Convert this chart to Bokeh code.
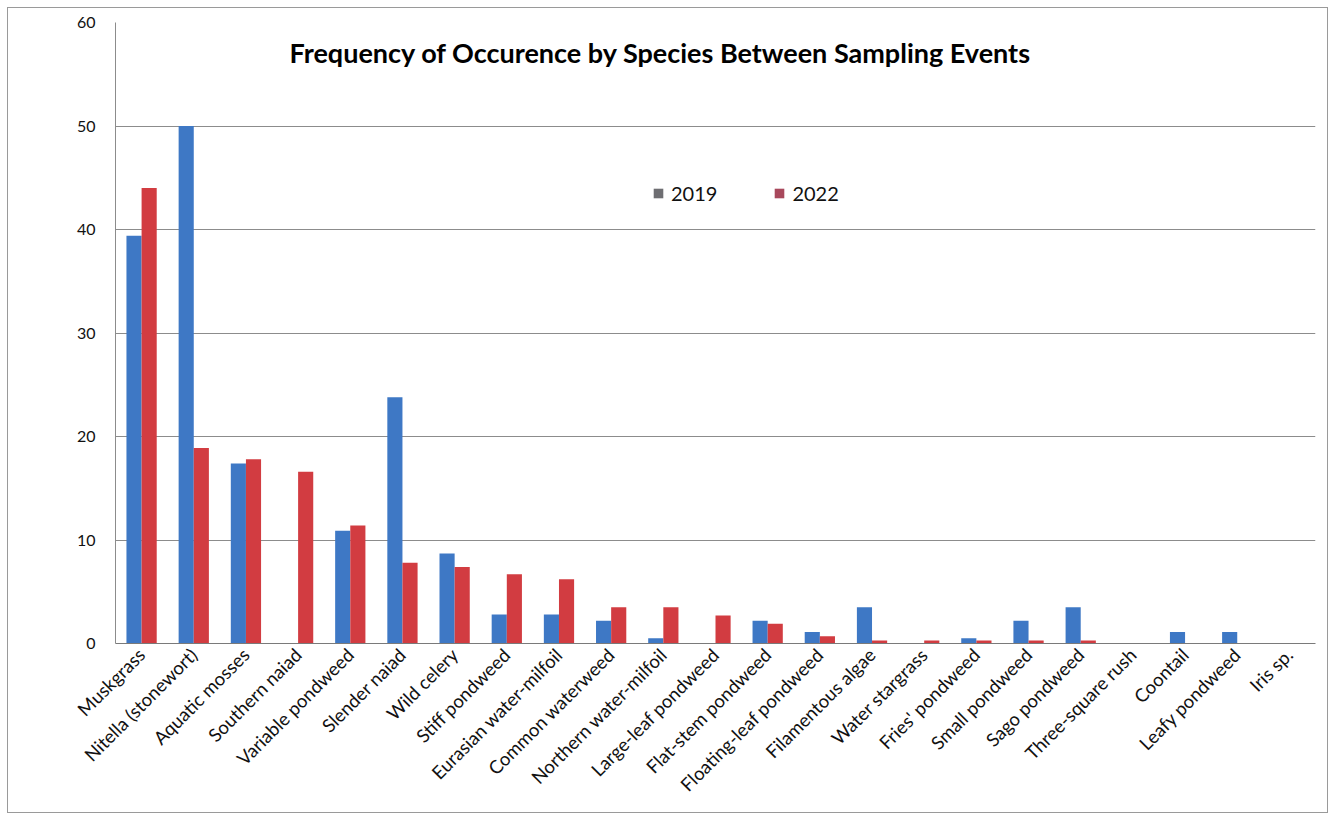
import math
from bokeh.plotting import figure
from bokeh.models import FactorRange, Range1d, Label, Legend, LegendItem, SingleIntervalTicker
from bokeh.transform import dodge
from bokeh.embed import file_html
from bokeh.resources import INLINE

species = [
    "Muskgrass", "Nitella (stonewort)", "Aquatic mosses", "Southern naiad",
    "Variable pondweed", "Slender naiad", "Wild celery", "Stiff pondweed",
    "Eurasian water-milfoil", "Common waterweed", "Northern water-milfoil",
    "Large-leaf pondweed", "Flat-stem pondweed", "Floating-leaf pondweed",
    "Filamentous algae", "Water stargrass", "Fries' pondweed", "Small pondweed",
    "Sago pondweed", "Three-square rush", "Coontail", "Leafy pondweed", "Iris sp.",
]
y2019 = [39.4, 50.0, 17.4, 0.0, 10.9, 23.8, 8.7, 2.8, 2.8, 2.2, 0.5, 0.0, 2.2,
         1.1, 3.5, 0.0, 0.5, 2.2, 3.5, 0.0, 1.1, 1.1, 0.0]
y2022 = [44.0, 18.9, 17.8, 16.6, 11.4, 7.8, 7.4, 6.7, 6.2, 3.5, 3.5, 2.7, 1.9,
         0.7, 0.3, 0.3, 0.3, 0.3, 0.3, 0.0, 0.0, 0.0, 0.0]
series = ["2019", "2022"]
title_text = "Frequency of Occurence by Species Between Sampling Events"

FONT = "Lato"
BLUE = "#3e78c5"
RED = "#d23c41"

p = figure(
    x_range=FactorRange(*species, range_padding=0),
    y_range=Range1d(0, 60),
    width=1321, height=806,
    output_backend="svg", toolbar_location=None,
    min_border_left=107, min_border_right=14, min_border_top=14, min_border_bottom=171,
)
p.styles = {"border": "1px solid #9a9a9a", "margin-left": "7px", "margin-top": "7px"}
p.outline_line_color = None
p.background_fill_color = "white"

data = dict(x=species, a=y2019, b=y2022)
p.vbar(x=dodge("x", -0.145, range=p.x_range), top="a", width=0.29, source=data,
       fill_color=BLUE, line_color=None)
p.vbar(x=dodge("x", 0.145, range=p.x_range), top="b", width=0.29, source=data,
       fill_color=RED, line_color=None)

# legend swatches (zero-height proxies)
r1 = p.vbar(x=[species[0]], top=[0], bottom=[0], width=0.01, fill_color="#6e6e72", line_color=None)
r2 = p.vbar(x=[species[0]], top=[0], bottom=[0], width=0.01, fill_color="#a8485c", line_color=None)
legend = Legend(items=[LegendItem(label=series[0], renderers=[r1]),
                       LegendItem(label=series[1], renderers=[r2])],
                orientation="horizontal", location=(537, 438),
                background_fill_alpha=0, border_line_color=None,
                label_text_font=FONT, label_text_font_size="20px",
                label_text_color="#111111", padding=10, margin=0,
                glyph_width=12, glyph_height=12, spacing=56, label_standoff=7)
p.add_layout(legend, "center")

p.yaxis.ticker = SingleIntervalTicker(interval=10)
p.ygrid.grid_line_color = "#8c8c8c"
p.ygrid.grid_line_width = 1
p.xgrid.grid_line_color = None

p.yaxis.axis_line_color = "#8c8c8c"
p.yaxis.major_tick_line_color = None
p.yaxis.minor_tick_line_color = None
p.yaxis.major_label_text_font = FONT
p.yaxis.major_label_text_font_size = "16px"
p.yaxis.major_label_text_color = "#111111"
p.yaxis.major_label_standoff = 14

p.xaxis.axis_line_color = "#7a7a7a"
p.xaxis.major_tick_line_color = None
p.xaxis.minor_tick_line_color = None
p.xaxis.major_label_orientation = math.pi / 4
p.xaxis.major_label_text_font = FONT
p.xaxis.major_label_text_font_size = "18.5px"
p.xaxis.major_label_text_color = "#111111"
p.xaxis.major_label_standoff = 2

p.add_layout(Label(x=10.45, y=57.1, text=title_text, text_align="center",
                   text_baseline="middle", text_font=FONT, text_font_style="bold",
                   text_font_size="27px", text_color="#000000"))

open("out.html", "w").write(file_html(p, INLINE))
